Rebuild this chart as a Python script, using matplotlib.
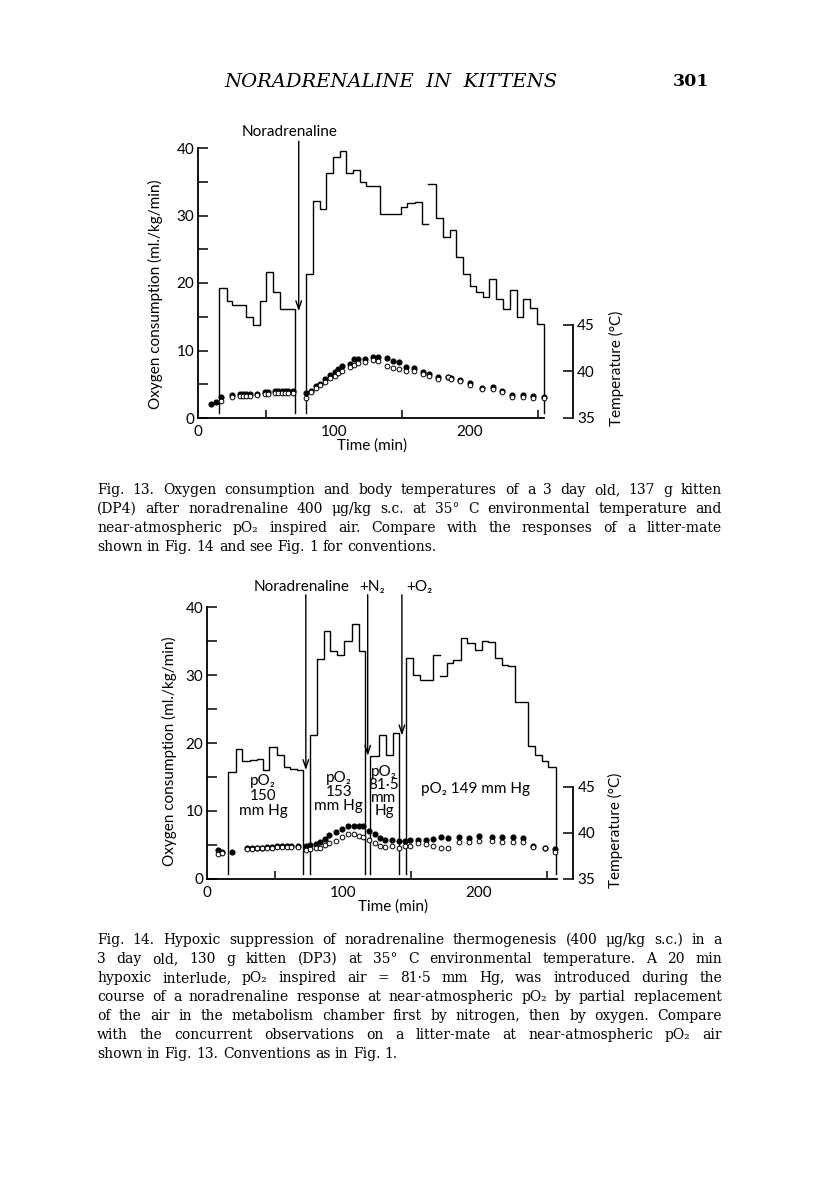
import numpy as np
import matplotlib
matplotlib.use('Agg')
import matplotlib.pyplot as plt

# ---------------- data: Fig. 13 ----------------
# oxygen consumption step runs: (edges [min], values [ml/kg/min])
f13_runA_edges = [15, 20.8, 24.5, 35.5, 40.4, 45.3, 50.2, 54.7, 60, 71.6]
f13_runA_vals = [19.2, 17.3, 16.7, 15.0, 13.8, 17.3, 21.7, 18.7, 16.2]
f13_runB_edges = [79.7, 84.6, 89.5, 94.4, 99.3, 104.2, 109.1, 114, 118.9, 123.8,
                  133.6, 149.1, 154, 159.7, 164.6, 169.5]
f13_runB_vals = [21.3, 32.1, 31.0, 36.3, 38.7, 39.5, 36.3, 36.8, 35.0, 34.4,
                 30.2, 31.2, 31.9, 32.0, 28.8]
f13_runC_edges = [169.5, 175.2, 180.1, 185.5, 189.9, 194.8, 200.2, 204.7, 209.6,
                  214.5, 219.4, 224.8, 229.7, 235.0, 239.5, 244.5, 249.9, 254.8]
f13_runC_vals = [34.6, 29.7, 26.8, 27.8, 23.8, 21.4, 19.6, 18.6, 18.0, 20.6,
                 17.7, 16.2, 19.0, 14.9, 17.6, 16.3, 13.9]

# temperatures (deg C)
t13 = [9, 13, 17, 25, 30.5, 33, 35.5, 38, 43, 49, 51.5, 56.5, 59, 61.5, 64, 66, 70,
       79, 83, 87, 89.5, 93, 97, 100.5, 103, 106, 111.5, 114.5, 117.5, 122.5, 128.5,
       132.5, 139, 143.5, 148, 153, 159, 165.5, 170, 176.5, 184, 186.5, 192.5, 200.5,
       209, 217.5, 223.5, 231, 239, 247, 254.5]
temp13_filled = [36.5, 36.7, 37.3, 37.5, 37.6, 37.6, 37.6, 37.6, 37.6, 37.8, 37.8, 37.9,
                 37.9, 37.9, 37.9, 37.9, 37.9, 37.7, 37.9, 38.4, 38.7, 39.2, 39.6, 39.9,
                 40.3, 40.6, 40.8, 41.3, 41.3, 41.3, 41.6, 41.6, 41.5, 41.1, 41.0, 40.5,
                 40.4, 39.9, 39.7, 39.4, 39.4, 39.3, 39.1, 38.8, 38.2, 38.3, 37.9, 37.5,
                 37.5, 37.4, 37.3]
temp13_open = [np.nan, np.nan, 36.8, 37.3, 37.4, 37.4, 37.4, 37.4, 37.5, 37.6, 37.6, 37.7,
               37.7, 37.7, 37.7, 37.7, 37.7, 37.2, 37.8, 38.2, 38.5, 38.9, 39.3, 39.5,
               39.8, 40.1, 40.5, 40.7, 40.9, 41.0, 41.2, 41.1, 40.6, 40.4, 40.3, 40.1,
               40.0, 39.7, 39.5, 39.2, 39.4, 39.2, 39.0, 38.6, 38.1, 38.1, 37.8, 37.3,
               37.3, 37.2, 37.1]
f13_noradrenaline_t = 74

# ---------------- data: Fig. 14 ----------------
f14_runA_edges = [15.5, 21.2, 25.4, 31.5, 36.5, 41.4, 45.8, 51.2, 56.2, 61.1, 66, 70.4]
f14_runA_vals = [15.7, 19.1, 17.3, 17.5, 17.7, 16.1, 19.4, 18.3, 16.5, 16.2, 16.0]
f14_runB_edges = [75.4, 80.8, 85.7, 90.6, 95.6, 100.5, 106.7, 111.6, 116]
f14_runB_vals = [21.2, 32.4, 36.5, 33.6, 32.9, 35.0, 37.5, 33.6]
f14_runC_edges = [119.7, 126.4, 132, 137, 141.1]
f14_runC_vals = [18.1, 21.2, 18.3, 21.4]
f14_runD_edges = [146.5, 151.9, 156.8, 166.6, 171.5]
f14_runD_vals = [32.5, 30.0, 29.3, 33.0]
f14_runE_edges = [171.5, 176.4, 181.4, 186.8, 191.7, 197.3, 202.2, 207.2, 212.1, 217,
                  221.9, 226.8, 236.6, 241.6, 246.5, 251.4, 256.8]
f14_runE_vals = [29.8, 31.7, 32.2, 35.5, 34.7, 33.7, 35.0, 34.8, 32.5, 31.5, 31.3,
                 26.1, 19.6, 18.3, 17.3, 16.4]

t14 = [8, 11, 18, 29, 33, 36.5, 40, 44, 47.5, 51, 55, 58.5, 62, 67, 73, 76, 80, 83,
       86.5, 90, 95, 99, 104, 108, 111.5, 115, 119, 123.5, 127.5, 131, 136, 141, 146,
       149.5, 155.5, 161.5, 166.5, 172, 177.5, 185.5, 192.5, 200.5, 209.5, 217.5,
       225.5, 232.5, 240, 249, 256]
temp14_filled = [38.1, 37.9, 37.9, 38.3, 38.3, 38.4, 38.4, 38.5, 38.5, 38.6, 38.6, 38.6,
                 38.6, 38.6, 38.6, 38.7, 38.8, 39.0, 39.3, 39.8, 40.1, 40.4, 40.7, 40.7,
                 40.7, 40.7, 40.2, 39.9, 39.4, 39.2, 39.2, 39.1, 39.1, 39.2, 39.2, 39.2,
                 39.3, 39.5, 39.4, 39.5, 39.4, 39.6, 39.5, 39.5, 39.5, 39.4, 38.6, 38.4,
                 38.2]
temp14_open = [37.7, 37.8, np.nan, 38.2, 38.2, 38.3, 38.3, 38.4, 38.4, 38.5, 38.5, 38.5,
               38.5, 38.5, 38.1, 38.2, 38.3, 38.4, 38.7, 38.9, 39.1, 39.5, 39.9, 39.9,
               39.7, 39.5, 39.2, 38.9, 38.6, 38.5, 38.6, 38.3, 38.6, 38.6, 38.85, 38.8,
               38.6, 38.4, 38.3, 39.0, 39.0, 39.1, 39.1, 39.0, 39.0, 39.0, 38.5, 38.3,
               37.9]
f14_noradrenaline_t = 72.6
f14_n2_t = 118.2
f14_o2_t = 143.4

floor_level = 0.8   # level the recording lines drop to

# ---------------- labels ----------------
y_ticks = [0, 10, 20, 30, 40]
y_minor = [5, 15, 25, 35]
x_ticks = [0, 100, 200]
x_minor = [50, 150, 250]
temp_ticks = [35, 40, 45]

cap13 = ["Fig. 13.  Oxygen consumption and body temperatures of a 3 day old, 137 g kitten",
         "(DP4) after noradrenaline 400 \u03bcg/kg s.c. at 35\u00b0 C environmental temperature and",
         "near-atmospheric pO\u2082 inspired air.  Compare with the responses of a litter-mate",
         "shown in Fig. 14 and see Fig. 1 for conventions."]
cap14 = ["Fig. 14.  Hypoxic suppression of noradrenaline thermogenesis (400 \u03bcg/kg s.c.) in a",
         "3 day old, 130 g kitten (DP3) at 35\u00b0 C environmental temperature.  A 20 min",
         "hypoxic interlude, pO\u2082 inspired air = 81\u00b75 mm Hg, was introduced during the",
         "course of a noradrenaline response at near-atmospheric pO\u2082 by partial replacement",
         "of the air in the metabolism chamber first by nitrogen, then by oxygen.  Compare",
         "with the concurrent observations on a litter-mate at near-atmospheric pO\u2082 air",
         "shown in Fig. 13. Conventions as in Fig. 1."]

# ---------------- drawing ----------------
W, H = 816, 1184
fig = plt.figure(figsize=(W / 100, H / 100), dpi=100)
fig.patch.set_facecolor('white')
SANS = ['Lato', 'DejaVu Sans']
SERIF = ['DejaVu Serif', 'DejaVu Sans']
LW = 1.0


def draw_run(ax, edges, vals, rise=True, drop=True):
    xs, ys = [], []
    if rise:
        xs.append(edges[0]); ys.append(floor_level)
    for i, v in enumerate(vals):
        xs += [edges[i], edges[i + 1]]
        ys += [v, v]
    if drop:
        xs.append(edges[-1]); ys.append(floor_level)
    ax.plot(xs, ys, color='black', lw=LW, solid_joinstyle='miter')


def make_panel(px_left, px_right, px_bottom, px_top, px_per_min, temp_px10, axis_end,
               ylab_xy, tlab_x):
    tmax = (px_right - px_left) / px_per_min
    ax = fig.add_axes([px_left / W, 1 - px_bottom / H, (px_right - px_left) / W,
                       (px_bottom - px_top) / H])
    ax.set_xlim(0, tmax)
    ax.set_ylim(0, 40)
    ax.patch.set_alpha(0)
    for s in ['top', 'right']:
        ax.spines[s].set_visible(False)
    ax.spines['left'].set_linewidth(1.3)
    ax.spines['bottom'].set_linewidth(1.3)
    ax.spines['bottom'].set_bounds(0, axis_end)
    ax.set_yticks(y_ticks)
    ax.set_yticks(y_minor, minor=True)
    ax.set_xticks(x_ticks)
    ax.set_xticks(x_minor, minor=True)
    ax.tick_params(axis='y', which='both', direction='in', length=7, width=1.1,
                   labelsize=11, pad=3)
    ax.tick_params(axis='x', which='major', length=0, labelsize=11, pad=5)
    ax.tick_params(axis='x', which='minor', direction='in', length=6, width=1.1)
    for lab in ax.get_xticklabels() + ax.get_yticklabels():
        lab.set_family(SANS)
    ax.set_ylabel('Oxygen consumption (ml./kg/min)', family=SANS, fontsize=11)
    ax.yaxis.set_label_coords(*ylab_xy)
    ax.set_xlabel('Time (min)', family=SANS, fontsize=11)
    ax.xaxis.set_label_coords(tlab_x / tmax, -0.075)

    tax = ax.twinx()
    top_T = 35 + 10 * (px_bottom - px_top) / temp_px10
    tax.set_ylim(35, top_T)
    for s in ['left', 'top', 'bottom']:
        tax.spines[s].set_visible(False)
    tax.spines['right'].set_bounds(35, 45)
    tax.spines['right'].set_linewidth(1.3)
    tax.set_yticks(temp_ticks)
    tax.tick_params(axis='y', direction='in', length=7, width=1.1, labelsize=11, pad=3)
    for lab in tax.get_yticklabels():
        lab.set_family(SANS)
    tax.set_ylabel('Temperature (\u00b0C)', family=SANS, fontsize=11)
    tax.yaxis.set_label_coords(1.095, (45 - 35) / (top_T - 35) / 2 + 0.01)
    return ax, tax


def arrow(ax, t, tip, top):
    ax.annotate('', xy=(t, tip), xytext=(t, top), annotation_clip=False,
                arrowprops=dict(arrowstyle='->,head_length=0.6,head_width=0.2',
                                lw=1.0, color='black', shrinkA=0, shrinkB=0))


# ---- Fig 13 ----
ax13, tax13 = make_panel(198.3, 573, 418, 148, 1.357, 93, 255, (-0.095, 0.46), 128)
draw_run(ax13, f13_runA_edges, f13_runA_vals, True, True)
draw_run(ax13, f13_runB_edges, f13_runB_vals, True, False)
draw_run(ax13, f13_runC_edges, f13_runC_vals, False, True)
tax13.plot(t13, temp13_filled, 'o', color='black', ms=3.4, ls='none')
tax13.plot(t13, temp13_open, 'o', mfc='white', mec='black', mew=0.7, ms=3.4, ls='none')
arrow(ax13, f13_noradrenaline_t, 15.8, 41.0)
ax13.text(67.3, 42.3, 'Noradrenaline', family=SANS, fontsize=11, ha='center',
          va='center')

# ---- Fig 14 ----
ax14, tax14 = make_panel(207.3, 573.3, 879, 607, 1.357, 92.5, 257.5, (-0.083, 0.47), 137)
draw_run(ax14, f14_runA_edges, f14_runA_vals, True, True)
draw_run(ax14, f14_runB_edges, f14_runB_vals, True, True)
draw_run(ax14, f14_runC_edges, f14_runC_vals, True, True)
draw_run(ax14, f14_runD_edges, f14_runD_vals, True, False)
draw_run(ax14, f14_runE_edges, f14_runE_vals, False, True)
tax14.plot(t14, temp14_filled, 'o', color='black', ms=3.4, ls='none')
tax14.plot(t14, temp14_open, 'o', mfc='white', mec='black', mew=0.7, ms=3.4, ls='none')
arrow(ax14, f14_noradrenaline_t, 16.0, 41.8)
arrow(ax14, f14_n2_t, 18.1, 41.8)
arrow(ax14, f14_o2_t, 21.1, 41.8)
ax14.text(69.8, 43.0, 'Noradrenaline', family=SANS, fontsize=11, ha='center', va='center')
ax14.text(112.3, 43.0, '+N\u2082', family=SANS, fontsize=11, ha='left', va='center')
ax14.text(146.8, 43.0, '+O\u2082', family=SANS, fontsize=11, ha='left', va='center')
ax14.text(41, 12.2, 'pO\u2082\n150\nmm Hg', family=SANS, fontsize=11, ha='center',
          va='center', linespacing=1.05)
ax14.text(96.8, 12.8, 'pO\u2082\n153\nmm Hg', family=SANS, fontsize=11, ha='center',
          va='center', linespacing=1.0)
ax14.text(130.2, 12.9, 'pO\u2082\n81\u00b75\nmm\nHg', family=SANS, fontsize=11,
          ha='center', va='center', linespacing=0.92)
ax14.text(197.3, 13.2, 'pO\u2082 149 mm Hg', family=SANS, fontsize=11, ha='center',
          va='center')

# ---- page header ----
fig.text(391 / W, 1 - 82 / H, 'NORADRENALINE  IN  KITTENS', family='DejaVu Serif',
         style='italic', fontsize=14, ha='center', va='center')
fig.text(691 / W, 1 - 82 / H, '301', family='DejaVu Serif', fontweight='bold',
         fontsize=12.5, ha='center', va='center')

# ---- justified captions ----
renderer = fig.canvas.get_renderer()


def justified(lines, x0, x1, y0, dy, size):
    for i, line in enumerate(lines):
        words = line.split()
        yb = 1 - (y0 + i * dy) / H
        texts = [fig.text(0, yb, w, family=SERIF, fontsize=size, va='baseline')
                 for w in words]
        widths = [t.get_window_extent(renderer).width for t in texts]
        normal = size * 100 / 72 * 0.32
        if i == len(lines) - 1:
            gap = normal
        else:
            gap = max((x1 - x0 - sum(widths)) / (len(words) - 1), 1.5)
        x = x0
        for t, w in zip(texts, widths):
            t.set_x(x / W)
            x += w + gap


justified(cap13, 97, 722, 494, 19, 10.0)
justified(cap14, 97, 722, 944, 19, 10.0)

fig.savefig('out.png', dpi=100)
